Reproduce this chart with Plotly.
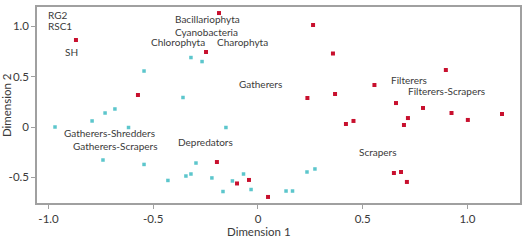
import plotly.graph_objects as go

# Red series (taxa / trait points)
red_x = [-0.869, -0.186, -0.248, -0.573, 0.263, 0.358, 0.897, 0.556, 0.368, 0.236,
         0.659, 0.788, 0.924, 1.165, 1.002, 0.716, 0.456, 0.420, 0.697, 0.649,
         0.683, 0.711, 0.048, -0.196, -0.100, -0.043]
red_y = [0.864, 1.132, 0.745, 0.318, 1.013, 0.730, 0.566, 0.417, 0.328, 0.288,
         0.238, 0.189, 0.139, 0.129, 0.070, 0.089, 0.060, 0.030, 0.020, -0.457,
         -0.447, -0.546, -0.695, -0.348, -0.561, -0.526]

# Cyan series (sites)
cyan_x = [-0.320, -0.267, -0.544, -0.358, -0.683, -0.730, -0.792, -0.969, -0.618, -0.153,
          -0.740, -0.544, -0.296, -0.320, -0.344, -0.430, -0.220, -0.122, -0.069, -0.167,
          -0.033, 0.134, 0.165, 0.234, 0.272]
cyan_y = [0.690, 0.650, 0.556, 0.293, 0.179, 0.139, 0.060, 0.000, -0.005, -0.005,
          -0.328, -0.372, -0.358, -0.467, -0.487, -0.531, -0.506, -0.536, -0.467, -0.641,
          -0.621, -0.636, -0.636, -0.447, -0.417]

# Text labels (data coordinates of left edge / middle)
label_text = ["RG2", "RSC1", "SH", "Bacillariophyta", "Cyanobacteria", "Chlorophyta",
              "Charophyta", "Gatherers", "Filterers", "Filterers-Scrapers",
              "Gatherers-Shredders", "Gatherers-Scrapers", "Depredators", "Scrapers"]
label_x = [-1.012, -1.012, -0.931, -0.406, -0.406, -0.520, -0.205, -0.100, 0.625, 0.706,
           -0.936, -0.893, -0.391, 0.473]
label_y = [1.112, 1.003, 0.745, 1.072, 0.945, 0.845, 0.845, 0.427, 0.467, 0.357,
           -0.060, -0.189, -0.149, -0.248]

x_ticks = [-1.0, -0.5, 0, 0.5, 1.0]
x_ticktext = ["-1.0", "-0.5", "0", "0.5", "1.0"]
y_ticks = [-0.5, 0, 0.5, 1.0]
y_ticktext = ["-0.5", "0", "0.5", "1.0"]

FONT = "Lato"
TXT = "#3a3a3a"

fig = go.Figure()
fig.add_trace(go.Scatter(x=cyan_x, y=cyan_y, mode="markers",
                         marker=dict(symbol="square", size=3.5, color="#5cc6cc"),
                         showlegend=False, hoverinfo="skip"))
fig.add_trace(go.Scatter(x=red_x, y=red_y, mode="markers",
                         marker=dict(symbol="square", size=4, color="#c8102e"),
                         showlegend=False, hoverinfo="skip"))

for t, x, y in zip(label_text, label_x, label_y):
    fig.add_annotation(x=x, y=y, xref="x", yref="y", text=t, showarrow=False,
                       xanchor="left", yanchor="middle",
                       font=dict(family=FONT, size=10, color=TXT))

# Axis titles
fig.add_annotation(x=0.46, y=-0.143, xref="paper", yref="paper", text="Dimension 1",
                   showarrow=False, xanchor="center", yanchor="middle",
                   font=dict(family=FONT, size=11.5, color=TXT))
fig.add_annotation(x=-0.064, y=0.5, xref="paper", yref="paper", text="Dimension 2",
                   showarrow=False, xanchor="center", yanchor="middle", textangle=-90,
                   font=dict(family=FONT, size=11.5, color=TXT))

fig.update_layout(
    width=528, height=241,
    margin=dict(l=37, r=8, t=7, b=38),
    paper_bgcolor="white", plot_bgcolor="white",
    font=dict(family=FONT, color=TXT, size=11),
)
fig.update_xaxes(range=[-1.055, 1.251], tickvals=x_ticks, ticktext=x_ticktext,
                 showgrid=False, zeroline=False, showline=True, mirror=True,
                 linecolor="#a0a0a0", linewidth=1.5, ticks="outside", ticklen=4,
                 tickcolor="#a0a0a0", tickfont=dict(family=FONT, size=11.5, color=TXT),
                 automargin=False)
fig.update_yaxes(range=[-0.755, 1.192], tickvals=y_ticks, ticktext=y_ticktext,
                 showgrid=False, zeroline=False, showline=True, mirror=True,
                 linecolor="#a0a0a0", linewidth=1.5, ticks="outside", ticklen=4,
                 tickcolor="#a0a0a0", tickfont=dict(family=FONT, size=11.5, color=TXT),
                 automargin=False)

fig.write_html("out.html", config={"displayModeBar": False},
               post_script="document.body.style.margin='0';")
